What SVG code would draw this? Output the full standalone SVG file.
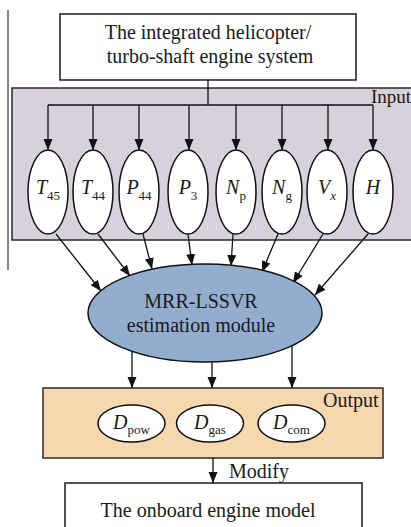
<svg xmlns="http://www.w3.org/2000/svg" width="411" height="527" viewBox="0 0 411 527">
  <style>
    .box { fill: #ffffff; stroke: #1a1a1a; stroke-width: 1.5; }
    .panel-in { fill: #d6d1da; stroke: #2a2a2a; stroke-width: 1.5; }
    .panel-out { fill: #f6d7ae; stroke: #2a2a2a; stroke-width: 1.5; }
    .var { fill: #ffffff; stroke: #111111; stroke-width: 1.5; }
    .core { fill: #93adcf; stroke: #111111; stroke-width: 1.5; }
    .wire { fill: none; stroke: #111111; stroke-width: 1.3; }
    .txt { font-family: "Liberation Serif", "Times New Roman", serif; font-size: 20px; fill: #1a1a1a; }
    .sym { font-family: "Liberation Serif", "Times New Roman", serif; font-size: 20px; font-style: italic; fill: #1a1a1a; text-anchor: middle; }
    .sub { font-size: 13px; font-style: normal; }
    .subi { font-size: 13px; font-style: italic; }
  </style>
  <defs>
    <marker id="arrow" markerUnits="userSpaceOnUse" markerWidth="12" markerHeight="10" refX="11" refY="4.5" orient="auto">
      <path d="M0,0 L11,4.5 L0,9 z" fill="#111111"/>
    </marker>
  </defs>

  <rect width="411" height="527" fill="#ffffff"/>
  <!-- page margin rule -->
  <line x1="8" y1="10" x2="8" y2="270" stroke="#333333" stroke-width="1.2"/>

  <!-- group panels -->
  <g id="input-panel">
    <rect class="panel-in" x="12" y="88" width="410" height="152"/>
    <text class="txt" x="371" y="103" style="font-size:19px">Input</text>
  </g>
  <g id="output-panel">
    <rect class="panel-out" x="43" y="388" width="340" height="70"/>
    <text class="txt" x="323" y="407">Output</text>
  </g>

  <!-- system box -->
  <g id="system">
    <rect class="box" x="60" y="14" width="296" height="66"/>
    <text class="txt" x="208" y="39" text-anchor="middle">The integrated helicopter/</text>
    <text class="txt" x="210" y="63" text-anchor="middle">turbo-shaft engine system</text>
  </g>

  <!-- connectors -->
  <g id="connectors">
    <path class="wire" d="M208,80 V105 M48,105 H373"/>
    <line class="wire" x1="48" y1="105" x2="48" y2="150" marker-end="url(#arrow)"/>
    <line class="wire" x1="93" y1="105" x2="93" y2="150" marker-end="url(#arrow)"/>
    <line class="wire" x1="139" y1="105" x2="139" y2="150" marker-end="url(#arrow)"/>
    <line class="wire" x1="189" y1="105" x2="189" y2="150" marker-end="url(#arrow)"/>
    <line class="wire" x1="236" y1="105" x2="236" y2="150" marker-end="url(#arrow)"/>
    <line class="wire" x1="282" y1="105" x2="282" y2="150" marker-end="url(#arrow)"/>
    <line class="wire" x1="328" y1="105" x2="328" y2="150" marker-end="url(#arrow)"/>
    <line class="wire" x1="373" y1="105" x2="373" y2="150" marker-end="url(#arrow)"/>

    <line class="wire" x1="56" y1="234" x2="101" y2="291" marker-end="url(#arrow)"/>
    <line class="wire" x1="98" y1="234" x2="130" y2="276" marker-end="url(#arrow)"/>
    <line class="wire" x1="143" y1="234" x2="152" y2="269" marker-end="url(#arrow)"/>
    <line class="wire" x1="188" y1="234" x2="192" y2="265" marker-end="url(#arrow)"/>
    <line class="wire" x1="233" y1="234" x2="231" y2="266" marker-end="url(#arrow)"/>
    <line class="wire" x1="278" y1="234" x2="262" y2="272" marker-end="url(#arrow)"/>
    <line class="wire" x1="323" y1="234" x2="293" y2="283" marker-end="url(#arrow)"/>
    <line class="wire" x1="368" y1="234" x2="315" y2="295" marker-end="url(#arrow)"/>

    <line class="wire" x1="132" y1="351" x2="132" y2="388" marker-end="url(#arrow)"/>
    <line class="wire" x1="212" y1="362" x2="212" y2="388" marker-end="url(#arrow)"/>
    <line class="wire" x1="292" y1="346" x2="292" y2="388" marker-end="url(#arrow)"/>

    <line class="wire" x1="213" y1="458" x2="213" y2="483" marker-end="url(#arrow)"/>
    <text class="txt" x="229" y="478">Modify</text>
  </g>

  <!-- input variables -->
  <g id="in-T45"><ellipse class="var" cx="48" cy="192" rx="20" ry="42"/><text class="sym" x="48" y="194">T<tspan class="sub" dy="6">45</tspan></text></g>
  <g id="in-T44"><ellipse class="var" cx="93" cy="192" rx="20" ry="42"/><text class="sym" x="93" y="194">T<tspan class="sub" dy="6">44</tspan></text></g>
  <g id="in-P44"><ellipse class="var" cx="139" cy="192" rx="20" ry="42"/><text class="sym" x="139" y="194">P<tspan class="sub" dy="6">44</tspan></text></g>
  <g id="in-P3"><ellipse class="var" cx="188" cy="192" rx="20" ry="42"/><text class="sym" x="188" y="194">P<tspan class="sub" dy="6">3</tspan></text></g>
  <g id="in-Np"><ellipse class="var" cx="236" cy="192" rx="20" ry="42"/><text class="sym" x="236" y="194">N<tspan class="sub" dy="6">p</tspan></text></g>
  <g id="in-Ng"><ellipse class="var" cx="282" cy="192" rx="20" ry="42"/><text class="sym" x="282" y="194">N<tspan class="sub" dy="6">g</tspan></text></g>
  <g id="in-Vx"><ellipse class="var" cx="327" cy="192" rx="20" ry="42"/><text class="sym" x="327" y="194">V<tspan class="subi" dy="6">x</tspan></text></g>
  <g id="in-H"><ellipse class="var" cx="373" cy="192" rx="20" ry="42"/><text class="sym" x="373" y="194">H</text></g>

  <!-- estimation module -->
  <g id="estimator">
    <ellipse class="core" cx="205" cy="313" rx="117" ry="49"/>
    <text class="txt" x="201" y="308" text-anchor="middle">MRR-LSSVR</text>
    <text class="txt" x="201" y="332" text-anchor="middle">estimation module</text>
  </g>

  <!-- output variables -->
  <g id="out-Dpow"><ellipse class="var" cx="131.5" cy="423.5" rx="33.5" ry="18.5"/><text class="sym" x="131.5" y="429">D<tspan class="sub" dy="5">pow</tspan></text></g>
  <g id="out-Dgas"><ellipse class="var" cx="210" cy="423.5" rx="33.5" ry="18.5"/><text class="sym" x="210" y="429">D<tspan class="sub" dy="5">gas</tspan></text></g>
  <g id="out-Dcom"><ellipse class="var" cx="291.5" cy="423.5" rx="33.5" ry="18.5"/><text class="sym" x="291.5" y="429">D<tspan class="sub" dy="5">com</tspan></text></g>

  <!-- onboard model -->
  <g id="onboard">
    <rect class="box" x="65" y="483" width="297" height="60"/>
    <text class="txt" x="208" y="517" text-anchor="middle">The onboard engine model</text>
  </g>
</svg>
